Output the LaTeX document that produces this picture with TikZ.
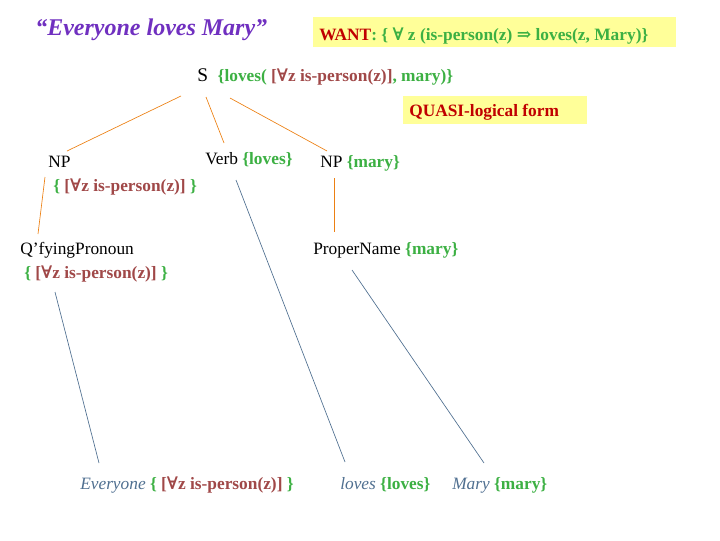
\documentclass[tikz,border=0pt]{standalone}
\usepackage{fontspec}
\setmainfont{Liberation Serif}
\newfontfamily\symf{DejaVu Serif}
\newcommand{\fa}{{\symf ∀}}
\newcommand{\imp}{{\symf ⇒}}
\begin{document}
\begin{tikzpicture}[x=0.75pt,y=-0.75pt,
  lab/.style={inner sep=0pt,anchor=base west,font=\fontsize{13}{15}\selectfont},
  ol/.style={draw=orange!70!brown,line width=0.5pt},
  bl/.style={draw=bu,line width=0.5pt}]
\definecolor{gr}{HTML}{3CB043}
\definecolor{br}{HTML}{A04848}
\definecolor{dr}{HTML}{C00000}
\definecolor{bu}{HTML}{4F6F90}
\definecolor{pu}{HTML}{7030C0}
\definecolor{yl}{HTML}{FFFF99}
\useasboundingbox (0,0) rectangle (720,540);
\fill[yl] (313,17) rectangle (676,47);
\fill[yl] (403,96) rectangle (587,124);
\node[lab,font=\fontsize{18}{20}\selectfont\itshape\bfseries,text=pu] (title) at (35,35) {“Everyone loves Mary”};
\node[lab,font=\fontsize{13}{15}\selectfont\bfseries] (want) at (319,40) {\textcolor{dr}{WANT}\textcolor{gr}{: \{ \fa{} z (is-person(z) \imp{} loves(z, Mary)\}}};
\node[lab] (s) at (197,81) {\fontsize{14.5}{16}\selectfont S\ \ \fontsize{13}{15}\selectfont\bfseries\textcolor{gr}{\{loves(~}\textcolor{br}{[\fa z is-person(z)]}\textcolor{gr}{, mary)\}}};
\node[lab,font=\fontsize{13}{15}\selectfont\bfseries,text=dr] (quasi) at (409,116) {QUASI-logical form};
\node[lab] (np1) at (48,167) {NP};
\node[lab] (np1s) at (53,191) {\bfseries\textcolor{gr}{\{~}\textcolor{br}{[\fa z is-person(z)]}\textcolor{gr}{~\}}};
\node[lab] (verb) at (205,164) {Verb \textbf{\textcolor{gr}{\{loves\}}}};
\node[lab] (np2) at (320,167) {NP \textbf{\textcolor{gr}{\{mary\}}}};
\node[lab] (qp) at (20,254) {Q’fyingPronoun};
\node[lab] (qps) at (24,278) {\bfseries\textcolor{gr}{\{~}\textcolor{br}{[\fa z is-person(z)]}\textcolor{gr}{~\}}};
\node[lab] (pn) at (313,254) {ProperName \textbf{\textcolor{gr}{\{mary\}}}};
\node[lab] (ev) at (80,489) {\textcolor{bu}{\itshape Everyone} \bfseries\textcolor{gr}{\{~}\textcolor{br}{[\fa z is-person(z)]}\textcolor{gr}{~\}}};
\node[lab] (lv) at (340,489) {\textcolor{bu}{\itshape loves} \textbf{\textcolor{gr}{\{loves\}}}};
\node[lab] (my) at (452,489) {\textcolor{bu}{\itshape Mary} \textbf{\textcolor{gr}{\{mary\}}}};
\coordinate (c1) at (181,96); \coordinate (c2) at (67,151);
\coordinate (c3) at (206,97); \coordinate (c4) at (224,143);
\coordinate (c5) at (230,98); \coordinate (c6) at (327,151);
\coordinate (c7) at (45,177); \coordinate (c8) at (38,234);
\coordinate (c9) at (334,178); \coordinate (c10) at (334,232);
\coordinate (d1) at (236,180); \coordinate (d2) at (345,462);
\coordinate (d3) at (55,292); \coordinate (d4) at (99,463);
\coordinate (d5) at (352,270); \coordinate (d6) at (484,463);
\draw[ol] (c1)--(c2); \draw[ol] (c3)--(c4); \draw[ol] (c5)--(c6);
\draw[ol] (c7)--(c8); \draw[ol] (c9)--(c10);
\draw[bl] (d1)--(d2); \draw[bl] (d3)--(d4); \draw[bl] (d5)--(d6);
\end{tikzpicture}
\end{document}
